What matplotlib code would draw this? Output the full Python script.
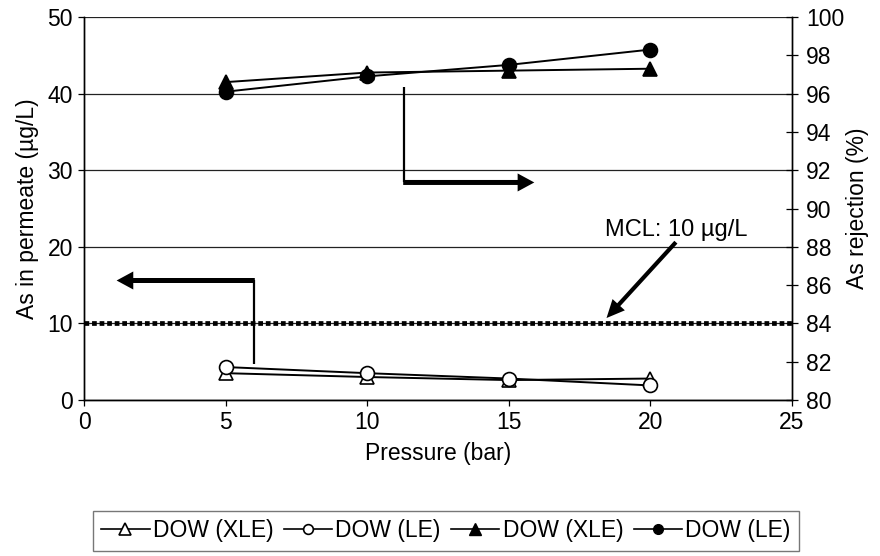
import matplotlib
matplotlib.use("Agg")
import matplotlib.pyplot as plt
from matplotlib.lines import Line2D

plt.rcParams['font.family'] = ['Liberation Sans', 'DejaVu Sans']
FS = 16.5

# Pressure (bar)
pressure = [5, 10, 15, 20]
# As in permeate (ug/L)
perm_xle = [3.5, 3.0, 2.6, 2.8]
perm_le = [4.3, 3.5, 2.8, 1.9]
# As rejection (%)
rej_xle = [96.6, 97.1, 97.2, 97.3]
rej_le = [96.1, 96.9, 97.5, 98.3]
mcl = 10
labels = ['DOW (XLE)', 'DOW (LE)', 'DOW (XLE)', 'DOW (LE)']

fig = plt.figure(figsize=(8.8, 5.56), dpi=100)
ax = fig.add_axes([0.0955, 0.2806, 0.8045, 0.6888])
ax2 = ax.twinx()

ax.set_xlim(0, 25)
ax.set_ylim(0, 50)
ax2.set_ylim(80, 100)
ax.set_xticks(range(0, 26, 5))
ax.set_yticks(range(0, 51, 10))
ax2.set_yticks(range(80, 101, 2))

for a in (ax, ax2):
    a.spines['top'].set_visible(False)
    for s in a.spines.values():
        s.set_linewidth(1.0)
        s.set_color('black')
ax.grid(axis='y', color='#222222', lw=0.9)
ax.set_axisbelow(True)
ax.tick_params(axis='both', direction='out', length=4, width=0.9, labelsize=FS, pad=4)
ax2.tick_params(axis='y', direction='inout', length=8, width=0.9, labelsize=FS, pad=6)

ax.set_xlabel('Pressure (bar)', fontsize=FS, labelpad=6)
ax.set_ylabel('As in permeate (\u00b5g/L)', fontsize=FS, labelpad=6)
ax2.set_ylabel('As rejection (%)', fontsize=FS, labelpad=1)

# MCL reference line
ax.plot([0, 25], [mcl, mcl], color='black', lw=3.4, linestyle=(0, (1, 0.6)),
        dash_capstyle='butt', zorder=3)

mk = dict(color='black', lw=1.4, markersize=10, markeredgewidth=1.2, clip_on=False)
ax.plot(pressure, perm_xle, marker='^', markerfacecolor='white', zorder=4, **mk)
ax.plot(pressure, perm_le, marker='o', markerfacecolor='white', zorder=4, **mk)
ax2.plot(pressure, rej_xle, marker='^', markerfacecolor='black', zorder=4, **mk)
ax2.plot(pressure, rej_le, marker='o', markerfacecolor='black', zorder=4, **mk)


def block_arrow(x0, y0, x1, y1, tail=3.6, head_w=13, head_l=12):
    ax.annotate('', xy=(x1, y1), xytext=(x0, y0),
                arrowprops=dict(arrowstyle=f'simple,head_length={head_l},'
                                           f'head_width={head_w},tail_width={tail}',
                                color='black', lw=0, shrinkA=0, shrinkB=0,
                                mutation_scale=1))


# Elbow arrows pointing to the relevant axis
ax.plot([6.0, 6.0], [4.7, 15.6], color='black', lw=1.6, solid_capstyle='butt')
block_arrow(6.03, 15.6, 1.15, 15.6)
ax.plot([11.3, 11.3], [40.9, 28.4], color='black', lw=1.6, solid_capstyle='butt')
block_arrow(11.27, 28.4, 15.9, 28.4)

# MCL label
ax.text(20.9, 22.2, 'MCL: 10 \u00b5g/L', fontsize=FS + 0.5, ha='center', va='center')
block_arrow(20.9, 20.6, 18.45, 10.7, tail=3.0, head_w=12, head_l=13)

handles = [
    Line2D([], [], color='black', lw=1.2, marker='^', markersize=8,
           markerfacecolor='white', markeredgewidth=1.2),
    Line2D([], [], color='black', lw=1.2, marker='o', markersize=7,
           markerfacecolor='white', markeredgewidth=1.2),
    Line2D([], [], color='black', lw=1.2, marker='^', markersize=8,
           markerfacecolor='black'),
    Line2D([], [], color='black', lw=1.2, marker='o', markersize=7,
           markerfacecolor='black'),
]
leg = fig.legend(handles, labels, loc='center', bbox_to_anchor=(446 / 880, 1 - 531 / 556),
                 ncol=4, fontsize=FS, frameon=True, fancybox=False, handlelength=2.1,
                 handletextpad=0.15, columnspacing=0.45, borderpad=0.35,
                 borderaxespad=0)
leg.get_frame().set_edgecolor('#555555')
leg.get_frame().set_linewidth(1.0)

fig.savefig('out.png', dpi=100)
